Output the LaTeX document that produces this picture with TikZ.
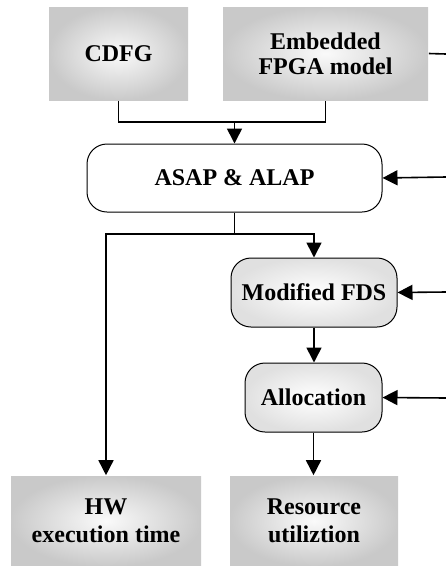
\documentclass[tikz,border=0pt]{standalone}
\usepackage{fontspec}
\setmainfont{Liberation Serif}
\usetikzlibrary{arrows.meta}
\begin{document}
\begin{tikzpicture}[x=1pt,y=1pt,
  line width=1.6pt,
  every node/.style={font=\bfseries\fontsize{24}{25}\selectfont, align=center, inner sep=0pt},
  graybox/.style={rectangle, shading=radial, inner color=white!96!gray, outer color=black!21},
  roundbox/.style={rectangle, rounded corners=20pt, draw=black, line width=1pt},
  shadedround/.style={roundbox, shading=radial, inner color=white, outer color=black!12},
  resultbox/.style={graybox, font=\bfseries\fontsize{24}{28}\selectfont},
  arr/.style={-{Triangle[width=15pt,length=15pt]}}]
\useasboundingbox (0,0) rectangle (446,-566);

% input blocks
\node[graybox, minimum width=139pt, minimum height=93pt] (cdfg) at (118.5,-53.5) {CDFG};
\node[graybox, minimum width=205pt, minimum height=93pt] (fpga) at (325.5,-53.5) {Embedded\\FPGA model};

% processing steps
\node[roundbox, fill=white, minimum width=295pt, minimum height=68pt] (asap) at (234.5,-178) {ASAP \& ALAP};
\node[shadedround, minimum width=166pt, minimum height=69pt] (fds) at (314,-292.5) {Modified FDS};
\node[shadedround, minimum width=137pt, minimum height=69pt] (alloc) at (313.5,-397.5) {Allocation};

% results
\node[resultbox, minimum width=190pt, minimum height=90pt] (hw) at (106,-521) {HW\\execution time};
\node[resultbox, minimum width=168pt, minimum height=90pt] (res) at (314,-521) {Resource\\utiliztion};

% joins and the feedback bus on the right edge
\coordinate (j1) at (234.5,-122);
\coordinate (j2) at (234.5,-234);
\coordinate (b0) at (446,-54);
\coordinate (b1) at (446,-177);
\coordinate (b2) at (446,-292);
\coordinate (b3) at (446,-398);

% connectors
\draw (cdfg.south) |- (j1) -| (fpga.south);
\draw[arr] (j1) -- (asap.north);
\draw (fpga.east) -- (b0);
\draw (asap.south) -- (j2);
\draw[arr] (j2) -| (hw.north);
\draw[arr] (j2) -| (fds.north);
\draw[arr] (fds.south) -- (fds.south |- alloc.north);
\draw[arr] (alloc.south) -- (alloc.south |- res.north);
\draw[arr] (b1) -- (asap.east);
\draw[arr] (b2) -- (fds.east);
\draw[arr] (b3) -- (alloc.east);
\end{tikzpicture}
\end{document}
